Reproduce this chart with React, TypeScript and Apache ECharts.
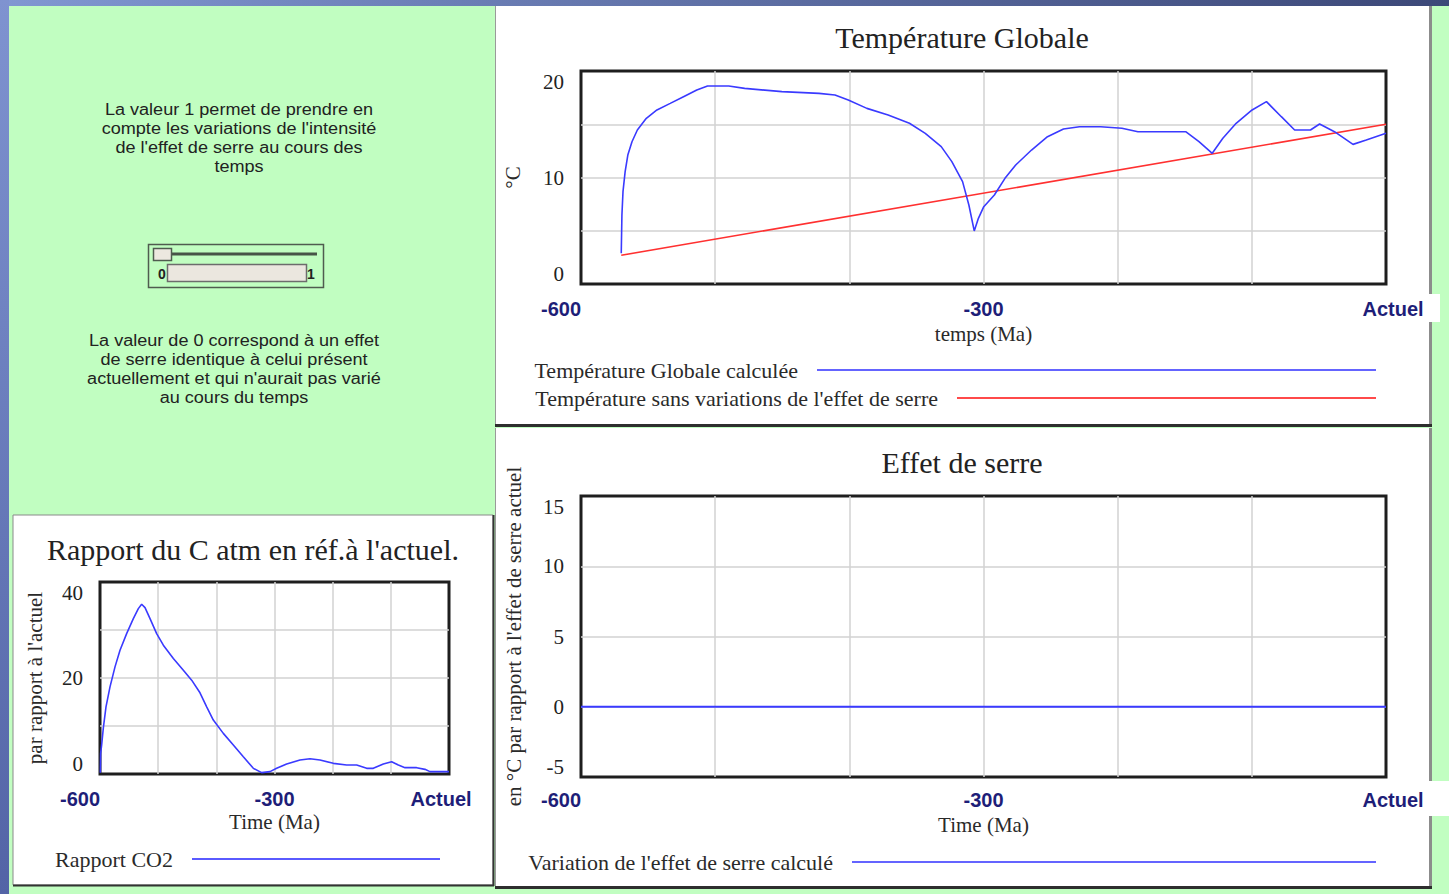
import React, { useEffect, useRef } from 'react';
import * as echarts from 'echarts';

// ---------- data ----------
const xTickValues = [-600, -300, 0];
const xTickLabels = ['-600', '-300', 'Actuel'];

const tempYTicks = [0, 10, 20];
const co2YTicks = [0, 20, 40];
const serreYTicks = [-5, 0, 5, 10, 15];

// Température Globale calculée (Ma, °C)
const tempTime = [-570, -569.5, -568.7, -567.1, -565.1, -562, -558, -551.3, -543.4, -533.5, -523.6, -513.7, -505.7, -489.9, -478, -450.3, -422.6, -410.7, -400.8, -386.9, -371.1, -355.2, -343.4, -331.5, -323.6, -315.6, -310.9, -306.9, -303.8, -299.8, -291.9, -284, -276, -264.2, -252.3, -240.4, -228.5, -212.7, -196.8, -184.9, -149.3, -139.4, -129.5, -121.6, -111.7, -99.8, -89.1, -78, -68.1, -56.3, -49.5, -38.4, -24.6, -14.7, 0];
const tempCalculee = [2.88, 6.48, 8.67, 10.55, 12.11, 13.36, 14.46, 15.56, 16.34, 16.96, 17.59, 18.22, 18.59, 18.59, 18.37, 18.06, 17.9, 17.75, 17.28, 16.49, 15.87, 15.09, 14.15, 12.9, 11.49, 9.61, 7.42, 4.98, 6.17, 7.26, 8.36, 9.92, 11.17, 12.58, 13.83, 14.55, 14.77, 14.77, 14.62, 14.3, 14.3, 13.36, 12.27, 13.68, 15.09, 16.34, 17.12, 15.71, 14.46, 14.46, 15.02, 14.3, 13.11, 13.52, 14.15];

// Température sans variations de l'effet de serre
const tempSansVarTime = [-570, 0];
const tempSansVar = [2.7, 15.0];

// Rapport CO2
const co2Time = [-599.4, -598.9, -597.1, -594.3, -589.7, -582.8, -574.2, -565.6, -554.2, -542.7, -534.1, -528.4, -522.6, -514, -502.6, -491.1, -473.9, -456.7, -442.4, -428.1, -416.6, -405.2, -388, -370.8, -353.6, -336.4, -322.1, -307.7, -296.3, -279.1, -256.2, -239, -221.8, -198.9, -176, -158.7, -141.5, -130.1, -112.9, -98.6, -87.1, -75.6, -55.6, -41.3, -32.7, 0];
const co2Rapport = [0.28, 4.3, 6.1, 9.57, 14.0, 18.16, 22.32, 25.79, 29.25, 32.37, 34.45, 35.36, 34.66, 32.37, 29.25, 26.83, 24.06, 21.63, 19.55, 16.92, 14.0, 11.23, 8.46, 6.03, 3.6, 1.18, 0.28, 0.49, 1.18, 2.08, 2.91, 3.19, 2.91, 2.22, 1.87, 1.87, 1.18, 1.18, 2.08, 2.57, 1.87, 1.32, 1.32, 0.97, 0.49, 0.49];

// Variation de l'effet de serre calculé
const serreTime = [-600, 0];
const serreVariation = [0, 0];

const introLines = [
  'La valeur 1 permet de prendre en',
  "compte les variations de l'intensité",
  "de l'effet de serre au cours des",
  'temps',
];
const noteLines = [
  'La valeur de 0 correspond à un effet',
  'de serre identique à celui présent',
  "actuellement et qui n'aurait pas varié",
  'au cours du temps',
];

const SERIES_TEMP = 'Température Globale calculée';
const SERIES_TEMP0 = "Température sans variations de l'effet de serre";
const SERIES_CO2 = 'Rapport CO2';
const SERIES_SERRE = "Variation de l'effet de serre calculé";

// ---------- styles ----------
const SERIF = '"Liberation Serif", "Times New Roman", serif';
const SANS = '"Liberation Sans", Arial, sans-serif';
const GREEN = '#c1fec1';

const zip = (xs: number[], ys: number[]) => xs.map((x, i) => [x, ys[i]]);

function xAxis(gridIndex: number, name: string, nameGap: number, margin: number, maxPad: number[]) {
  return {
    type: 'value',
    gridIndex,
    min: -600,
    max: 0,
    interval: 100,
    name,
    nameLocation: 'middle',
    nameGap,
    nameTextStyle: { fontFamily: SERIF, fontSize: 21, color: '#2a2a2a' },
    axisLine: { show: false },
    axisTick: { show: false },
    axisLabel: {
      margin,
      showMinLabel: true,
      showMaxLabel: true,
      alignMinLabel: 'right',
      alignMaxLabel: 'center',
      formatter: (v: number) => {
        const i = xTickValues.indexOf(v);
        if (i < 0) return '';
        return i === xTickValues.length - 1 ? '{m|' + xTickLabels[i] + '}' : xTickLabels[i];
      },
      rich: {
        m: { padding: maxPad, fontFamily: SANS, fontWeight: 'bold', fontSize: 20, color: '#1e1e78' },
      },
      fontFamily: SANS,
      fontWeight: 'bold',
      fontSize: 20,
      color: '#1e1e78',
    },
    splitLine: { show: true, showMinLine: false, showMaxLine: false, lineStyle: { color: '#d2d2d2', width: 1.5 } },
  };
}

function yAxis(gridIndex: number, min: number, max: number, interval: number, shown: number[], name: string, nameGap: number, margin: number) {
  return {
    type: 'value',
    gridIndex,
    min,
    max,
    interval,
    name,
    nameLocation: 'middle',
    nameGap,
    nameRotate: 90,
    nameTextStyle: { fontFamily: SERIF, fontSize: 21, color: '#2a2a2a' },
    axisLine: { show: false },
    axisTick: { show: false },
    axisLabel: {
      margin,
      showMinLabel: true,
      showMaxLabel: true,
      verticalAlignMinLabel: 'bottom',
      verticalAlignMaxLabel: 'top',
      formatter: (v: number) => (shown.indexOf(v) >= 0 ? String(v) : ''),
      fontFamily: SERIF,
      fontSize: 21,
      color: '#222',
    },
    splitLine: { show: true, showMinLine: false, showMaxLine: false, lineStyle: { color: '#d2d2d2', width: 1.5 } },
  };
}

function legend(name: string, lineStart: number, lineEnd: number, centerY: number) {
  return {
    data: [name],
    right: 1449 - lineEnd,
    top: centerY - 12,
    align: 'right',
    padding: 0,
    itemWidth: lineEnd - lineStart,
    itemHeight: 2,
    icon: 'rect',
    selectedMode: false,
    textStyle: { fontFamily: SERIF, fontSize: 22, color: '#2a2a2a', lineHeight: 24, padding: [0, 14, 0, 0] },
  };
}

function titleAt(text: string, cx: number, top: number) {
  return {
    text,
    left: cx,
    top,
    textAlign: 'center',
    padding: 0,
    textStyle: { fontFamily: SERIF, fontSize: 30, fontWeight: 'normal', color: '#222' },
  };
}

const line = (x1: number, y1: number, x2: number, y2: number, stroke: string, lineWidth: number, z = -60) => ({
  type: 'line',
  z,
  silent: true,
  shape: { x1, y1, x2, y2 },
  style: { stroke, lineWidth },
});

const graphicElements: any[] = [
  // background
  { type: 'rect', z: -100, silent: true, shape: { x: 0, y: 0, width: 1449, height: 894 }, style: { fill: GREEN } },
  {
    type: 'rect', z: -99, silent: true, shape: { x: 0, y: 0, width: 1449, height: 6 },
    style: { fill: new echarts.graphic.LinearGradient(0, 0, 1, 0, [{ offset: 0, color: '#8197d2' }, { offset: 1, color: '#3c4878' }]) },
  },
  {
    type: 'rect', z: -99, silent: true, shape: { x: 0, y: 0, width: 9, height: 894 },
    style: { fill: new echarts.graphic.LinearGradient(0, 0, 0, 1, [{ offset: 0, color: '#7f93d0' }, { offset: 1, color: '#5364a6' }]) },
  },
  // top-right panel
  { type: 'rect', z: -80, silent: true, shape: { x: 495, y: 6, width: 935, height: 419 }, style: { fill: '#ffffff' } },
  line(495.5, 6, 495.5, 426, '#9a9a9a', 1),
  line(1430.5, 6, 1430.5, 427, '#8c8c8c', 3),
  line(495, 425.5, 1432, 425.5, '#2e2e2e', 3),
  // bottom-right panel
  { type: 'rect', z: -80, silent: true, shape: { x: 495, y: 428, width: 935, height: 459 }, style: { fill: '#ffffff' } },
  line(495.5, 428, 495.5, 888, '#9a9a9a', 1),
  line(1430.5, 428, 1430.5, 889, '#8c8c8c', 3),
  line(495, 887.5, 1432, 887.5, '#2e2e2e', 3),
  // bottom-left panel
  { type: 'rect', z: -80, silent: true, shape: { x: 13, y: 515, width: 480, height: 370 }, style: { fill: '#ffffff', stroke: '#8a8a8a', lineWidth: 1 } },
  line(493.5, 515, 493.5, 886, '#333333', 2),
  line(13, 885.5, 494, 885.5, '#333333', 2),
  // white label boxes behind "Actuel"
  { type: 'rect', z: -50, silent: true, shape: { x: 1358, y: 294, width: 82, height: 28 }, style: { fill: '#ffffff' } },
  { type: 'rect', z: -50, silent: true, shape: { x: 1360, y: 781, width: 89, height: 35 }, style: { fill: '#ffffff' } },
  // left texts
  {
    type: 'text', z: 10, silent: true, x: 239, y: 100, scaleX: 1.13,
    style: { text: introLines.join('\n'), align: 'center', verticalAlign: 'top', fontFamily: SANS, fontSize: 16, lineHeight: 19, fill: '#222222' },
  },
  {
    type: 'text', z: 10, silent: true, x: 234, y: 331, scaleX: 1.13,
    style: { text: noteLines.join('\n'), align: 'center', verticalAlign: 'top', fontFamily: SANS, fontSize: 16, lineHeight: 19, fill: '#222222' },
  },
  // slider widget
  { type: 'rect', z: 10, silent: true, shape: { x: 148.5, y: 244.5, width: 175, height: 43 }, style: { fill: GREEN, stroke: '#4f5c4f', lineWidth: 1.5 } },
  line(172, 254, 317, 254, '#475447', 3, 11),
  { type: 'rect', z: 12, silent: true, shape: { x: 153.5, y: 248.5, width: 18, height: 12 }, style: { fill: '#ece8e0', stroke: '#4f5c4f', lineWidth: 1.5 } },
  { type: 'rect', z: 11, silent: true, shape: { x: 167.5, y: 264.5, width: 139, height: 17 }, style: { fill: '#ebe7df', stroke: '#6c6c6c', lineWidth: 1.5 } },
  {
    type: 'text', z: 12, silent: true, x: 162, y: 274,
    style: { text: '0', align: 'center', verticalAlign: 'middle', fontFamily: SANS, fontWeight: 'bold', fontSize: 14, fill: '#222' },
  },
  {
    type: 'text', z: 12, silent: true, x: 311, y: 274,
    style: { text: '1', align: 'center', verticalAlign: 'middle', fontFamily: SANS, fontWeight: 'bold', fontSize: 14, fill: '#222' },
  },
];

const option: any = {
  animation: false,
  backgroundColor: GREEN,
  title: [
    titleAt('Température Globale', 962, 22),
    titleAt('Effet de serre', 962, 447),
    titleAt("Rapport du C atm en réf.à l'actuel.", 253, 534),
  ],
  legend: [
    legend(SERIES_TEMP, 817, 1376, 370),
    legend(SERIES_TEMP0, 957, 1376, 398),
    legend(SERIES_CO2, 192, 440, 859),
    legend(SERIES_SERRE, 852, 1376, 862),
  ],
  grid: [
    { left: 581, top: 71, width: 805, height: 213, show: true, borderColor: '#1e1e1e', borderWidth: 3, backgroundColor: '#fff', containLabel: false },
    { left: 100, top: 582, width: 349, height: 192, show: true, borderColor: '#1e1e1e', borderWidth: 3, backgroundColor: '#fff', containLabel: false },
    { left: 581, top: 496, width: 805, height: 281, show: true, borderColor: '#1e1e1e', borderWidth: 3, backgroundColor: '#fff', containLabel: false },
  ],
  xAxis: [
    xAxis(0, 'temps (Ma)', 39, 15, [0, 0, 0, 14]),
    xAxis(1, 'Time (Ma)', 37, 15, [0, 16, 0, 0]),
    xAxis(2, 'Time (Ma)', 37, 13, [0, 0, 0, 14]),
  ],
  yAxis: [
    yAxis(0, 0, 20, 5, tempYTicks, '°C', 58, 17),
    yAxis(1, 0, 40, 10, co2YTicks, "par rapport à l'actuel", 55, 17),
    yAxis(2, -5, 15, 5, serreYTicks, "en °C par rapport à l'effet de serre actuel", 57, 17),
  ],
  graphic: { elements: graphicElements },
  series: [
    {
      name: SERIES_TEMP, type: 'line', xAxisIndex: 0, yAxisIndex: 0,
      data: zip(tempTime, tempCalculee), showSymbol: false, symbol: 'none',
      lineStyle: { color: '#3a3aff', width: 1.6 }, itemStyle: { color: '#6464ff' }, z: 3,
    },
    {
      name: SERIES_TEMP0, type: 'line', xAxisIndex: 0, yAxisIndex: 0,
      data: zip(tempSansVarTime, tempSansVar), showSymbol: false, symbol: 'none',
      lineStyle: { color: '#ff3030', width: 1.6 }, itemStyle: { color: '#ff4a4a' }, z: 2,
    },
    {
      name: SERIES_CO2, type: 'line', xAxisIndex: 1, yAxisIndex: 1,
      data: zip(co2Time, co2Rapport), showSymbol: false, symbol: 'none',
      lineStyle: { color: '#3a3aff', width: 1.6 }, itemStyle: { color: '#5a5aff' },
    },
    {
      name: SERIES_SERRE, type: 'line', xAxisIndex: 2, yAxisIndex: 2,
      data: zip(serreTime, serreVariation), showSymbol: false, symbol: 'none',
      lineStyle: { color: '#3a3aff', width: 1.8 }, itemStyle: { color: '#6464ff' },
    },
  ],
};

export default function App() {
  const ref = useRef<HTMLDivElement>(null);
  useEffect(() => {
    if (!ref.current) return;
    const chart = echarts.init(ref.current, null, { renderer: 'svg' });
    chart.setOption(option);
    return () => chart.dispose();
  }, []);
  return <div ref={ref} style={{ position: 'absolute', left: 0, top: 0, width: 1449, height: 894 }} />;
}
